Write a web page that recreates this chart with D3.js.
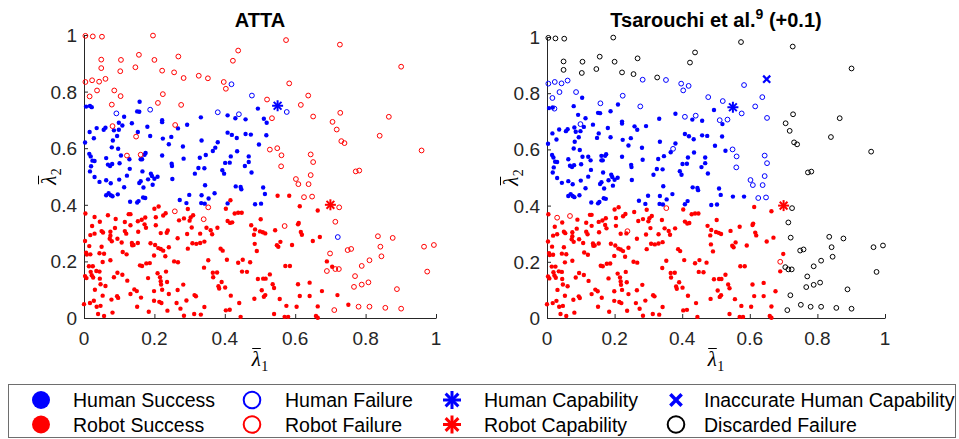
<!DOCTYPE html>
<html lang="en">
<head>
<meta charset="UTF-8">
<script src="https://d3js.org/d3.v7.min.js"></script>
<style>
    body {
        margin: 0;
        background-color: #ffffff;
        font-family: 'Liberation Sans', Arial, sans-serif;
        overflow: hidden;
    }
    svg { display: block; }
    .tick-label { font-size: 19px; fill: #262626; }
    .title { font-size: 20px; font-weight: 700; fill: #000; }
    .legend-text { font-size: 19.5px; fill: #000; }
</style>
</head>
<body>
<svg id="chart" width="959" height="439"></svg>
<script>
// ---- data ----
const panelTitles = ["ATTA", "Tsarouchi et al."];
const titleSup = ["", "9"];
const titleSuffix = ["", " (+0.1)"];
const tickValues = [0, 0.2, 0.4, 0.6, 0.8, 1];
const tickLabels = ["0", "0.2", "0.4", "0.6", "0.8", "1"];
const legendLabels = ["Human Success", "Human Failure", "Human Capability", "Inaccurate Human Capability",
                      "Robot Success", "Robot Failure", "Robot Capability", "Discarded Failure"];
const humanCapability = [0.55, 0.75];
const robotCapability = [0.70, 0.40];
const inaccurateHumanCapability = [0.65, 0.85];

// [lambda1, lambda2, outcome in ATTA + outcome in Tsarouchi]
// f human success, o human failure, F robot success, O robot failure, d discarded
const samples = [
    // failures in the upper band
    [0.004,0.997,"Od"],[0.025,0.995,"Od"],[0.051,0.994,"Od"],[0.196,0.998,"Od"],[0.438,0.945,"Od"],
    [0.049,0.913,"Od"],[0.105,0.912,"Od"],[0.156,0.930,"Od"],[0.200,0.912,"Od"],[0.268,0.924,"Od"],
    [0.423,0.909,"Od"],[0.049,0.883,"Od"],[0.103,0.872,"Od"],[0.146,0.886,"Od"],[0.222,0.874,"Od"],
    [0.256,0.868,"Od"],[0.283,0.848,"Oo"],[0.326,0.856,"Od"],[0.352,0.847,"Oo"],[0.004,0.834,"Oo"],
    [0.023,0.840,"Oo"],[0.043,0.835,"Oo"],[0.061,0.845,"Oo"],[0.397,0.834,"Oo"],[0.403,0.810,"Oo"],
    [0.037,0.804,"Oo"],[0.086,0.804,"Oo"],[0.016,0.783,"Oo"],[0.104,0.784,"Of"],[0.224,0.791,"Oo"],
    [0.079,0.754,"Of"],[0.210,0.760,"Of"],[0.276,0.753,"Oo"],[0.081,0.678,"Of"],[0.259,0.682,"Of"],
    [0.148,0.641,"Of"],[0.122,0.574,"Of"],[0.161,0.577,"Of"],
    [0.574,0.982,"Od"],[0.727,0.966,"Od"],[0.901,0.888,"Od"],[0.583,0.829,"Oo"],[0.637,0.786,"Oo"],
    [0.520,0.772,"Oo"],[0.616,0.753,"Oo"],[0.534,0.706,"Oo"],[0.651,0.712,"Oo"],[0.728,0.725,"Od"],
    [0.706,0.693,"Od"],[0.718,0.666,"Od"],[0.866,0.711,"Od"],[0.840,0.644,"Od"],[0.731,0.625,"Od"],
    [0.740,0.618,"Od"],[0.959,0.592,"Od"],[0.528,0.595,"Of"],[0.549,0.600,"Oo"],[0.561,0.575,"Oo"],
    [0.644,0.578,"Oo"],[0.651,0.551,"Oo"],[0.560,0.536,"Oo"],[0.644,0.505,"Oo"],[0.602,0.491,"Oo"],
    [0.609,0.473,"Oo"],[0.638,0.473,"Oo"],[0.772,0.518,"Od"],[0.782,0.521,"Od"],[0.625,0.427,"Oo"],
    [0.648,0.429,"Oo"],
    [0.419,0.826,"oo"],[0.477,0.786,"oo"],[0.188,0.736,"of"],[0.092,0.723,"of"],[0.380,0.727,"of"],
    [0.440,0.720,"oo"],[0.576,0.728,"oo"],[0.721,0.286,"od"],
    // human successes
    [0.006,0.747,"ff"],[0.017,0.749,"ff"],[0.022,0.745,"fo"],[0.158,0.764,"fo"],[0.151,0.730,"ff"],
    [0.157,0.729,"ff"],[0.494,0.740,"ff"],[0.114,0.711,"ff"],[0.332,0.709,"ff"],[0.408,0.716,"fo"],
    [0.430,0.706,"ff"],[0.459,0.702,"ff"],[0.099,0.690,"fo"],[0.109,0.680,"ff"],[0.136,0.688,"ff"],
    [0.222,0.699,"ff"],[0.222,0.692,"ff"],[0.293,0.683,"ff"],[0.267,0.670,"ff"],[0.180,0.676,"ff"],
    [0.036,0.671,"ff"],[0.056,0.665,"ff"],[0.061,0.672,"ff"],[0.085,0.663,"ff"],[0.099,0.665,"ff"],
    [0.016,0.657,"ff"],[0.153,0.657,"ff"],[0.408,0.655,"ff"],[0.420,0.647,"ff"],[0.434,0.636,"ff"],
    [0.459,0.650,"ff"],[0.474,0.648,"ff"],[0.028,0.635,"ff"],[0.094,0.643,"ff"],[0.188,0.643,"ff"],
    [0.082,0.627,"ff"],[0.224,0.634,"ff"],[0.248,0.640,"ff"],[0.334,0.627,"ff"],[0.380,0.621,"ff"],
    [0.003,0.620,"ff"],[0.497,0.613,"ff"],[0.241,0.614,"ff"],[0.079,0.603,"ff"],[0.097,0.598,"ff"],
    [0.281,0.606,"ff"],[0.373,0.602,"fo"],[0.366,0.590,"ff"],[0.015,0.580,"ff"],[0.019,0.571,"ff"],
    [0.063,0.565,"ff"],[0.105,0.574,"ff"],[0.129,0.561,"ff"],[0.175,0.583,"ff"],[0.172,0.577,"ff"],
    [0.161,0.561,"ff"],[0.165,0.561,"ff"],[0.222,0.574,"ff"],[0.283,0.563,"ff"],[0.329,0.566,"ff"],
    [0.346,0.576,"ff"],[0.417,0.571,"ff"],[0.435,0.589,"ff"],[0.468,0.571,"ff"],[0.024,0.556,"ff"],
    [0.030,0.555,"ff"],[0.101,0.547,"ff"],[0.068,0.542,"ff"],[0.074,0.537,"ff"],[0.080,0.544,"ff"],
    [0.249,0.545,"ff"],[0.250,0.537,"ff"],[0.325,0.530,"ff"],[0.342,0.529,"ff"],[0.401,0.548,"ff"],
    [0.414,0.549,"ff"],[0.457,0.537,"ff"],[0.468,0.551,"ff"],[0.020,0.536,"ff"],[0.130,0.527,"ff"],
    [0.017,0.518,"ff"],[0.166,0.518,"ff"],[0.190,0.510,"ff"],[0.315,0.510,"ff"],[0.393,0.522,"ff"],
    [0.398,0.510,"ff"],[0.476,0.514,"ff"],[0.030,0.498,"ff"],[0.122,0.503,"ff"],[0.209,0.499,"ff"],
    [0.044,0.481,"ff"],[0.063,0.487,"ff"],[0.076,0.476,"ff"],[0.100,0.489,"ff"],[0.157,0.477,"ff"],
    [0.161,0.483,"ff"],[0.182,0.490,"ff"],[0.193,0.502,"ff"],[0.169,0.461,"ff"],[0.195,0.471,"ff"],
    [0.200,0.492,"ff"],[0.251,0.491,"ff"],[0.114,0.462,"ff"],[0.063,0.434,"ff"],[0.070,0.441,"ff"],
    [0.076,0.434,"ff"],[0.081,0.430,"ff"],[0.096,0.437,"ff"],[0.131,0.411,"ff"],[0.151,0.408,"ff"],
    [0.155,0.413,"ff"],[0.168,0.426,"ff"],[0.174,0.424,"ff"],[0.344,0.469,"ff"],[0.431,0.465,"ff"],
    [0.445,0.463,"ff"],[0.447,0.455,"ff"],[0.299,0.435,"ff"],[0.272,0.417,"ff"],[0.291,0.406,"ff"],
    [0.334,0.434,"ff"],[0.354,0.422,"ff"],[0.371,0.441,"ff"],[0.333,0.406,"ff"],[0.343,0.404,"ff"],
    [0.408,0.405,"ff"],[0.486,0.402,"ff"],[0.509,0.461,"ff"],[0.514,0.438,"ff"],[0.503,0.404,"ff"],
    [0.511,0.704,"fo"],[0.519,0.690,"ff"],[0.518,0.646,"ff"],
    // robot successes
    [0.416,0.416,"Ff"],[0.550,0.432,"Ff"],[0.583,0.432,"Ff"],
    [0.004,0.369,"FF"],[0.030,0.357,"FO"],[0.068,0.363,"FO"],[0.127,0.367,"FF"],[0.132,0.367,"FF"],
    [0.200,0.386,"FF"],[0.212,0.394,"FF"],[0.225,0.362,"FF"],[0.232,0.370,"FF"],[0.295,0.385,"FF"],
    [0.403,0.386,"FF"],[0.428,0.369,"FF"],[0.438,0.372,"FF"],[0.448,0.372,"FF"],[0.045,0.340,"FF"],
    [0.090,0.350,"FF"],[0.116,0.339,"FF"],[0.153,0.342,"FF"],[0.164,0.347,"FF"],[0.174,0.355,"FF"],
    [0.204,0.356,"FF"],[0.270,0.345,"FF"],[0.284,0.352,"FF"],[0.300,0.344,"FF"],[0.310,0.363,"FF"],
    [0.303,0.355,"FF"],[0.408,0.343,"FF"],[0.415,0.336,"FF"],[0.421,0.338,"FF"],[0.475,0.328,"FF"],
    [0.023,0.325,"FF"],[0.132,0.328,"FF"],[0.172,0.331,"FF"],[0.176,0.319,"FF"],[0.204,0.328,"FF"],
    [0.306,0.320,"FF"],[0.348,0.319,"FF"],[0.018,0.293,"FF"],[0.030,0.298,"FF"],[0.050,0.307,"FF"],
    [0.054,0.302,"FF"],[0.075,0.305,"FF"],[0.075,0.291,"FF"],[0.088,0.318,"FF"],[0.116,0.307,"FF"],
    [0.120,0.298,"FF"],[0.154,0.305,"FF"],[0.218,0.300,"FF"],[0.238,0.309,"FO"],[0.235,0.301,"FF"],
    [0.293,0.297,"FF"],[0.330,0.298,"FF"],[0.360,0.310,"FF"],[0.364,0.296,"FF"],[0.379,0.319,"FF"],
    [0.486,0.313,"FF"],[0.483,0.294,"FF"],[0.003,0.272,"FF"],[0.073,0.280,"FF"],[0.079,0.271,"FF"],
    [0.095,0.280,"FF"],[0.107,0.267,"FF"],[0.136,0.265,"FF"],[0.141,0.258,"FF"],[0.137,0.257,"FF"],
    [0.153,0.265,"FF"],[0.189,0.264,"FF"],[0.202,0.258,"FF"],[0.211,0.247,"FF"],[0.218,0.244,"FF"],
    [0.225,0.238,"FF"],[0.241,0.250,"FF"],[0.266,0.282,"FF"],[0.295,0.245,"FF"],[0.308,0.264,"FF"],
    [0.319,0.262,"FF"],[0.330,0.265,"FF"],[0.342,0.270,"FF"],[0.485,0.262,"FF"],[0.015,0.254,"FF"],
    [0.050,0.252,"FF"],[0.388,0.245,"FF"],[0.394,0.238,"FF"],[0.491,0.237,"FF"],[0.006,0.231,"FF"],
    [0.008,0.224,"FF"],[0.018,0.225,"FF"],[0.044,0.229,"FF"],[0.057,0.227,"FF"],[0.110,0.233,"FF"],
    [0.121,0.225,"FF"],[0.199,0.221,"FF"],[0.231,0.218,"FF"],[0.053,0.198,"FF"],[0.075,0.204,"FF"],
    [0.256,0.200,"FF"],[0.267,0.197,"FF"],[0.353,0.204,"FF"],[0.406,0.206,"FF"],[0.438,0.195,"FF"],
    [0.451,0.206,"FF"],[0.472,0.197,"FF"],[0.159,0.186,"FF"],[0.165,0.184,"FF"],[0.177,0.193,"FF"],
    [0.187,0.194,"FF"],[0.014,0.183,"FF"],[0.025,0.183,"FF"],[0.341,0.178,"FF"],[0.044,0.164,"FF"],
    [0.035,0.166,"FF"],[0.019,0.163,"FF"],[0.095,0.160,"FF"],[0.209,0.158,"FF"],[0.233,0.164,"FF"],
    [0.366,0.160,"FF"],[0.378,0.161,"FF"],[0.449,0.164,"FF"],[0.463,0.163,"FF"],[0.003,0.148,"FF"],
    [0.007,0.141,"FF"],[0.022,0.151,"FF"],[0.026,0.143,"FF"],[0.085,0.144,"FF"],[0.109,0.153,"FF"],
    [0.123,0.132,"FF"],[0.182,0.141,"FF"],[0.216,0.144,"FF"],[0.218,0.130,"FF"],[0.219,0.118,"FF"],
    [0.236,0.127,"FF"],[0.282,0.118,"FF"],[0.367,0.144,"FF"],[0.391,0.127,"FF"],[0.494,0.138,"FF"],
    [0.045,0.139,"FF"],[0.047,0.119,"FF"],[0.061,0.113,"FF"],[0.031,0.100,"FF"],[0.143,0.101,"FF"],
    [0.150,0.095,"FF"],[0.199,0.095,"FF"],[0.222,0.100,"FF"],[0.266,0.099,"FF"],[0.382,0.112,"FF"],
    [0.384,0.104,"FF"],[0.401,0.108,"FF"],[0.132,0.085,"FF"],[0.241,0.085,"FF"],[0.314,0.081,"FF"],
    [0.318,0.077,"FF"],[0.417,0.079,"FF"],[0.053,0.079,"FF"],[0.094,0.077,"FF"],[0.097,0.071,"FF"],
    [0.162,0.072,"FF"],[0.028,0.061,"FF"],[0.078,0.065,"FF"],[0.199,0.061,"FF"],[0.214,0.057,"FF"],
    [0.220,0.053,"FF"],[0.291,0.062,"FF"],[0.484,0.068,"FF"],[0.000,0.049,"FF"],[0.017,0.053,"FF"],
    [0.263,0.053,"FF"],[0.441,0.053,"FF"],[0.036,0.040,"FF"],[0.047,0.043,"FF"],[0.151,0.040,"FF"],
    [0.274,0.033,"FF"],[0.342,0.039,"FF"],[0.081,0.019,"FF"],[0.184,0.022,"FF"],[0.237,0.026,"FF"],
    [0.403,0.027,"FF"],[0.414,0.029,"FF"],[0.040,0.014,"FF"],[0.057,0.007,"FF"],[0.284,0.008,"FF"],
    [0.313,0.014,"FF"],[0.332,0.012,"FF"],[0.445,0.004,"FF"],
    [0.613,0.395,"FF"],[0.664,0.380,"FF"],[0.502,0.349,"FF"],[0.608,0.331,"FF"],[0.610,0.336,"FF"],
    [0.543,0.310,"FF"],[0.500,0.306,"FF"],[0.508,0.303,"FF"],[0.515,0.299,"FF"],[0.616,0.304,"FF"],
    [0.619,0.294,"FF"],[0.670,0.286,"FF"],[0.558,0.269,"FF"],[0.548,0.257,"FF"],[0.552,0.252,"FF"],
    [0.591,0.258,"FF"],[0.650,0.272,"FF"],[0.690,0.200,"FO"],[0.705,0.181,"Fd"],[0.572,0.184,"FF"],
    [0.585,0.184,"FF"],[0.528,0.154,"FF"],[0.509,0.139,"FF"],[0.516,0.139,"FF"],[0.608,0.119,"FF"],
    [0.641,0.125,"FF"],[0.536,0.119,"FF"],[0.540,0.106,"FF"],[0.505,0.098,"FF"],[0.676,0.095,"FF"],
    [0.515,0.081,"FF"],[0.511,0.075,"FF"],[0.613,0.078,"FF"],[0.641,0.078,"FF"],[0.720,0.081,"Fd"],
    [0.556,0.067,"FF"],[0.575,0.043,"FF"],[0.604,0.040,"FF"],[0.664,0.041,"FF"],[0.751,0.047,"Fd"],
    [0.540,0.014,"FF"],[0.570,0.004,"FF"],[0.580,0.004,"FF"],[0.659,0.007,"FF"],[0.664,0.001,"FF"],
    // robot failures in the lower band
    [0.258,0.377,"OF"],[0.353,0.391,"OO"],[0.340,0.349,"OF"],[0.570,0.325,"OF"],[0.714,0.340,"Od"],
    [0.725,0.391,"Od"],[0.835,0.289,"Od"],[0.877,0.283,"Od"],[0.842,0.252,"Od"],[0.749,0.240,"Od"],
    [0.759,0.244,"Od"],[0.699,0.228,"OF"],[0.845,0.218,"Od"],[0.811,0.204,"Od"],[0.966,0.252,"Od"],
    [0.994,0.258,"Od"],[0.789,0.184,"Od"],[0.690,0.166,"OF"],[0.714,0.173,"Od"],[0.724,0.173,"Od"],
    [0.975,0.164,"Od"],[0.770,0.148,"Od"],[0.767,0.110,"Od"],[0.789,0.118,"Od"],[0.808,0.126,"Od"],
    [0.889,0.102,"Od"],[0.711,0.028,"Od"],[0.780,0.040,"Od"],[0.811,0.040,"Od"],[0.856,0.036,"Od"],
    [0.901,0.033,"Od"]
];

// ---- styling ----
const BLUE = "#0000ff", RED = "#ff0000", AXIS = "#262626";
const outcomeStyle = {
    f: { fill: BLUE, stroke: "none", r: 2.2 },
    o: { fill: "none", stroke: BLUE, r: 2.4 },
    F: { fill: RED, stroke: "none", r: 2.2 },
    O: { fill: "none", stroke: RED, r: 2.4 },
    d: { fill: "none", stroke: "#000", r: 2.4 }
};
const drawOrder = ["f", "o", "F", "O", "d"];

const panels = [
    { left: 84, right: 436, top: 35, bottom: 318, labelX: 56 },
    { left: 547, right: 885, top: 37, bottom: 318, labelX: 518 }
];

const svg = d3.select("#chart");

function drawStar(g, cx, cy, r, color, sw) {
    [0, 45, 90, 135].forEach(a => {
        const rad = a * Math.PI / 180;
        g.append("line")
            .attr("x1", cx - r * Math.cos(rad)).attr("y1", cy - r * Math.sin(rad))
            .attr("x2", cx + r * Math.cos(rad)).attr("y2", cy + r * Math.sin(rad))
            .attr("stroke", color).attr("stroke-width", sw);
    });
}

function drawCross(g, cx, cy, r, color, sw) {
    [45, 135].forEach(a => {
        const rad = a * Math.PI / 180;
        g.append("line")
            .attr("x1", cx - r * Math.cos(rad)).attr("y1", cy - r * Math.sin(rad))
            .attr("x2", cx + r * Math.cos(rad)).attr("y2", cy + r * Math.sin(rad))
            .attr("stroke", color).attr("stroke-width", sw);
    });
}

// lambda with overbar and subscript, baseline at y=0
function lambdaLabel(g, sub) {
    const lam = g.append("text")
        .attr("font-family", "'Liberation Serif', 'DejaVu Serif', serif")
        .attr("font-style", "italic")
        .attr("font-size", 21)
        .attr("fill", "#000")
        .text("λ");
    const bb = lam.node().getBBox();
    g.append("line")
        .attr("x1", bb.x + 1.5).attr("x2", bb.x + bb.width)
        .attr("y1", -17.5).attr("y2", -17.5)
        .attr("stroke", "#000").attr("stroke-width", 1);
    const s = g.append("text")
        .attr("x", bb.x + bb.width + 0.5).attr("y", 4.5)
        .attr("font-family", "'Liberation Serif', 'DejaVu Serif', serif")
        .attr("font-size", 14)
        .attr("fill", "#000")
        .text(sub);
    return bb.x + bb.width + 0.5 + s.node().getComputedTextLength();
}

panels.forEach((p, pi) => {
    const x = d3.scaleLinear().domain([0, 1]).range([p.left, p.right]);
    const y = d3.scaleLinear().domain([0, 1]).range([p.bottom, p.top]);
    const g = svg.append("g");

    // axes (inward ticks, no box)
    g.append("g")
        .attr("transform", `translate(0,${p.bottom})`)
        .call(d3.axisTop(x).tickValues(tickValues).tickSize(4).tickSizeOuter(0).tickFormat(""))
        .call(a => a.select(".domain").attr("stroke", AXIS))
        .call(a => a.selectAll(".tick line").attr("stroke", AXIS));
    g.append("g")
        .attr("transform", `translate(${p.left},0)`)
        .call(d3.axisRight(y).tickValues(tickValues).tickSize(4).tickSizeOuter(0).tickFormat(""))
        .call(a => a.select(".domain").attr("stroke", AXIS))
        .call(a => a.selectAll(".tick line").attr("stroke", AXIS));

    tickValues.forEach((v, i) => {
        g.append("text").attr("class", "tick-label")
            .attr("x", x(v)).attr("y", p.bottom + 27)
            .attr("text-anchor", "middle").text(tickLabels[i]);
        g.append("text").attr("class", "tick-label")
            .attr("x", p.left - 7).attr("y", y(v) + 7)
            .attr("text-anchor", "end").text(tickLabels[i]);
    });

    // points
    drawOrder.forEach(code => {
        const st = outcomeStyle[code];
        g.selectAll(null)
            .data(samples.filter(d => d[2][pi] === code))
            .enter().append("circle")
            .attr("cx", d => x(d[0])).attr("cy", d => y(d[1]))
            .attr("r", st.r)
            .attr("fill", st.fill)
            .attr("stroke", st.stroke)
            .attr("stroke-width", 1);
    });

    // capability markers
    drawStar(g, x(humanCapability[0]), y(humanCapability[1]), 5.5, BLUE, 2);
    drawStar(g, x(robotCapability[0]), y(robotCapability[1]), 5.5, RED, 2);
    if (pi === 1) drawCross(g, x(inaccurateHumanCapability[0]), y(inaccurateHumanCapability[1]), 5, BLUE, 2.2);

    // title
    const cx = (p.left + p.right) / 2;
    const t = g.append("text").attr("class", "title")
        .attr("x", cx).attr("y", 27).attr("text-anchor", "middle");
    t.append("tspan").text(panelTitles[pi]);
    if (titleSup[pi]) {
        t.append("tspan").attr("dy", -8).attr("font-size", 14).text(titleSup[pi]);
        t.append("tspan").attr("dy", 8).text(titleSuffix[pi]);
    }

    // axis labels
    const xl = g.append("g");
    const xw = lambdaLabel(xl, "1");
    xl.attr("transform", `translate(${cx - xw / 2},366)`);
    const yl = g.append("g");
    const yw = lambdaLabel(yl, "2");
    yl.attr("transform", `translate(${p.labelX},${(p.top + p.bottom) / 2 + yw / 2}) rotate(-90)`);
});

// ---- legend ----
const lg = svg.append("g");
lg.append("rect")
    .attr("x", 8.5).attr("y", 384.5).attr("width", 947).attr("height", 53)
    .attr("fill", "#fff").attr("stroke", "#6e6e6e").attr("stroke-width", 1);

const legendMarkerX = [41, 252, 452, 676];
const legendTextX = [73, 285, 484, 704];
const legendRowY = [400, 424.5];
const legendMarkers = ["f", "o", "hstar", "cross", "F", "O", "rstar", "d"];

legendLabels.forEach((label, i) => {
    const col = i % 4, row = Math.floor(i / 4);
    const mx = legendMarkerX[col], my = legendRowY[row];
    const m = legendMarkers[i];
    if (m === "hstar") drawStar(lg, mx, my, 9, BLUE, 3);
    else if (m === "rstar") drawStar(lg, mx, my, 9, RED, 3);
    else if (m === "cross") drawCross(lg, mx, my, 8, BLUE, 3.5);
    else {
        const st = outcomeStyle[m];
        lg.append("circle")
            .attr("cx", mx).attr("cy", my)
            .attr("r", st.fill === "none" ? 8.3 : 9)
            .attr("fill", st.fill).attr("stroke", st.stroke).attr("stroke-width", 2);
    }
    lg.append("text").attr("class", "legend-text")
        .attr("x", legendTextX[col]).attr("y", my + 7)
        .text(label);
});
</script>
</body>
</html>
